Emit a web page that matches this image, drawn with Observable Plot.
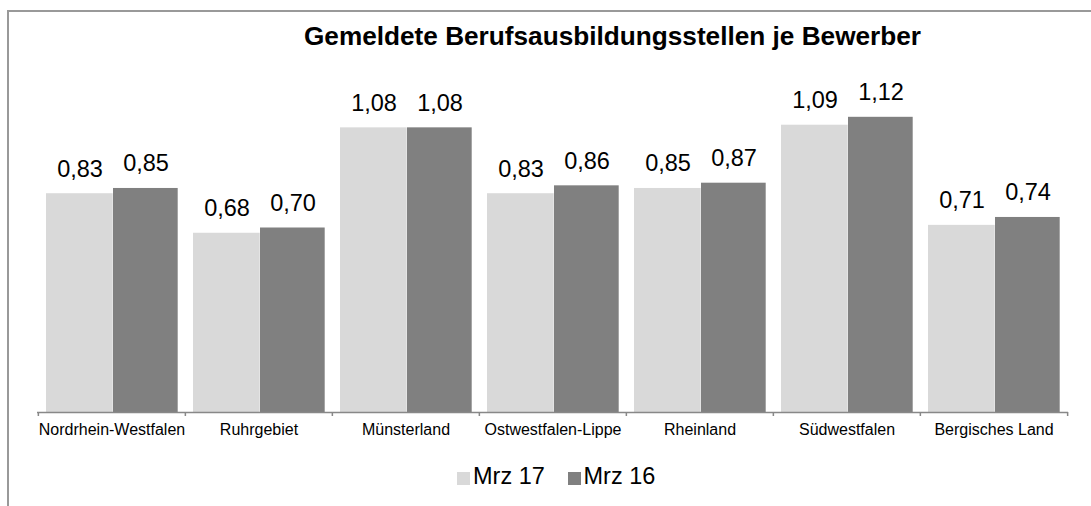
<!DOCTYPE html>
<html>
<head>
<meta charset="utf-8">
<script src="https://cdn.jsdelivr.net/npm/d3@7"></script>
<script src="https://cdn.jsdelivr.net/npm/@observablehq/plot@0.6"></script>
<style>
  body { margin: 0; background: #fff; font-family: "Liberation Sans", Arial, sans-serif; }
  #wrap { position: relative; width: 1091px; height: 506px; overflow: hidden; background: #fff; }
  #chart { position: absolute; left: 0; top: 0; }
  #frame { position: absolute; left: 7px; top: 10px; width: 1200px; height: 700px; box-sizing: border-box;
           border-left: 2px solid #999; border-top: 2px solid #999; pointer-events: none; }
  #title { position: absolute; left: 67px; width: 1091px; top: 23px; text-align: center;
           font-weight: bold; font-size: 26.2px; line-height: 26px; color: #000; white-space: nowrap; }
  .sw { position: absolute; width: 13px; height: 13px; top: 472px; }
  .lt { position: absolute; top: 465px; font-size: 23.5px; line-height: 23px; color: #000; white-space: nowrap; }
</style>
</head>
<body>
<div id="wrap">
  <div id="chart"></div>
  <div id="frame"></div>
  <div id="title"></div>
  <div id="legend"></div>
</div>
<script>
const title = "Gemeldete Berufsausbildungsstellen je Bewerber";
const regions = ["Nordrhein-Westfalen", "Ruhrgebiet", "Münsterland", "Ostwestfalen-Lippe", "Rheinland", "Südwestfalen", "Bergisches Land"];
const series = ["Mrz 17", "Mrz 16"];
const mrz17 = [0.83, 0.68, 1.08, 0.83, 0.85, 1.09, 0.71];
const mrz16 = [0.85, 0.70, 1.08, 0.86, 0.87, 1.12, 0.74];
const colors = ["#d9d9d9", "#808080"];

const rows17 = regions.map((r, i) => ({region: r, series: series[0], value: mrz17[i]}));
const rows16 = regions.map((r, i) => ({region: r, series: series[1], value: mrz16[i]}));

const de = d3.formatLocale({decimal: ",", thousands: ".", grouping: [3], currency: ["", " €"]});
const fmt = de.format(".2f");

const W = 1091, H = 506, mL = 37, mR = 23;
const bw = (W - mL - mR) / regions.length;

const chart = Plot.plot({
  width: W,
  height: H,
  marginLeft: mL,
  marginRight: mR,
  marginTop: 43,
  marginBottom: 94,
  style: {background: "transparent", color: "#000", fontFamily: "Liberation Sans, Arial, sans-serif", overflow: "visible"},
  x: {domain: regions, padding: 0},
  y: {domain: [0, 1.4], axis: null},
  marks: [
    Plot.barY(rows17, {x: "region", y: "value", fill: colors[0], insetLeft: 8, insetRight: 72.3}),
    Plot.barY(rows16, {x: "region", y: "value", fill: colors[1], insetLeft: 75, insetRight: 7.3}),
    Plot.ruleY([0], {stroke: "#888", strokeWidth: 1.5}),
    Plot.axisX({tickSize: 4, tickFormat: () => "", dx: -bw / 2, stroke: "#888", strokeWidth: 1.5, label: null}),
    Plot.axisX({ticks: [regions[regions.length - 1]], tickSize: 4, tickFormat: () => "", dx: bw / 2, stroke: "#888", strokeWidth: 1.5, label: null}),
    Plot.axisX({tickSize: 0, tickPadding: 11, fontSize: 16, label: null, fill: "#000"}),
    Plot.text(rows17, {x: "region", y: "value", text: d => fmt(d.value), dx: -32, dy: -17, lineAnchor: "bottom", fontSize: 23.5, fill: "#000"}),
    Plot.text(rows16, {x: "region", y: "value", text: d => fmt(d.value), dx: 34, dy: -17, lineAnchor: "bottom", fontSize: 23.5, fill: "#000"})
  ]
});
document.getElementById("chart").appendChild(chart);
document.getElementById("title").textContent = title;

const legend = document.getElementById("legend");
const legendPos = [{sw: 457, tx: 473}, {sw: 567.5, tx: 583.5}];
series.forEach((s, i) => {
  const sw = document.createElement("div");
  sw.className = "sw";
  sw.style.left = legendPos[i].sw + "px";
  sw.style.background = colors[i];
  legend.appendChild(sw);
  const t = document.createElement("div");
  t.className = "lt";
  t.style.left = legendPos[i].tx + "px";
  t.textContent = s;
  legend.appendChild(t);
});
</script>
</body>
</html>
